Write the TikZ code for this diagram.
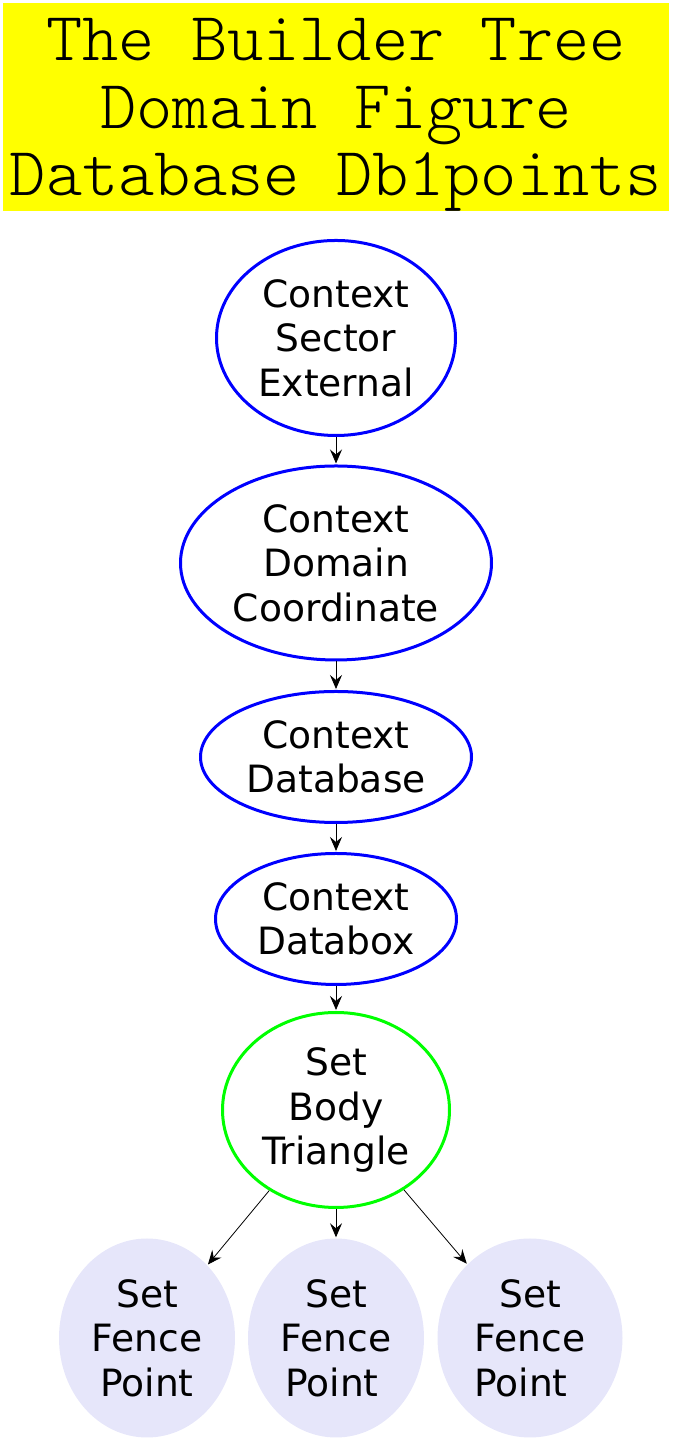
\documentclass[tikz,border=0pt]{standalone}
\usepackage{fontspec}
\setmainfont{DejaVu Sans}
\usetikzlibrary{shapes.geometric, arrows.meta}
\definecolor{gvblue}{RGB}{0, 0, 255}
\definecolor{gvgreen}{RGB}{0, 255, 0}
\definecolor{gvyellow}{RGB}{255, 255, 0}
\definecolor{gvlavender}{RGB}{230, 230, 250}

\tikzset{
    treenode/.style={ellipse, inner sep=0pt, align=center, font=\fontsize{37.6}{44.5}\selectfont},
    ctxnode/.style={treenode, draw=gvblue, line width=3pt},
    setnode/.style={treenode, draw=gvgreen, line width=3pt},
    fencenode/.style={treenode, fill=gvlavender, minimum width=176pt, minimum height=199pt},
    treearrow/.style={-{Stealth[length=14pt, width=12pt, inset=5pt]}, line width=0.8pt, shorten >=1pt}
}

\begin{document}
\begin{tikzpicture}[x=1pt, y=1pt]
            \useasboundingbox (0,0) rectangle (672,1440);

            % title banner
            \fill[gvyellow] (3,1229) rectangle (669,1437);
            \node[align=center, font=\ttfamily\fontseries{l}\fontsize{69}{67.5}\selectfont] (title) at (336,1325)
                {The Builder Tree\\Domain Figure\\Database Db1points};

            % context chain
            \node[ctxnode, minimum width=239pt, minimum height=195pt] (sector) at (336,1102) {Context\\Sector\\External};
            \node[ctxnode, minimum width=311pt, minimum height=194pt] (domain) at (336,877) {Context\\Domain\\Coordinate};
            \node[ctxnode, minimum width=271pt, minimum height=131pt] (database) at (336,683) {Context\\Database};
            \node[ctxnode, minimum width=241pt, minimum height=131pt] (databox) at (336,521) {Context\\Databox};

            % body
            \node[setnode, minimum width=227pt, minimum height=195pt] (body) at (336,330) {Set\\Body\\Triangle};

            % fence points
            \node[fencenode] (fenceA) at (147,102) {Set\\Fence\\Point};
            \node[fencenode] (fenceB) at (336,102) {Set\\Fence\\Point\hspace*{8pt}};
            \node[fencenode, minimum width=185pt] (fenceC) at (530,102) {Set\\Fence\\Point\hspace*{18pt}};

            % arrows
            \draw[treearrow] (sector) -- (domain);
            \draw[treearrow] (domain) -- (database);
            \draw[treearrow] (database) -- (databox);
            \draw[treearrow] (databox) -- (body);
            \draw[treearrow] (body) -- (fenceA);
            \draw[treearrow] (body) -- (fenceB);
            \draw[treearrow] (body) -- (fenceC);
        \end{tikzpicture}
\end{document}
